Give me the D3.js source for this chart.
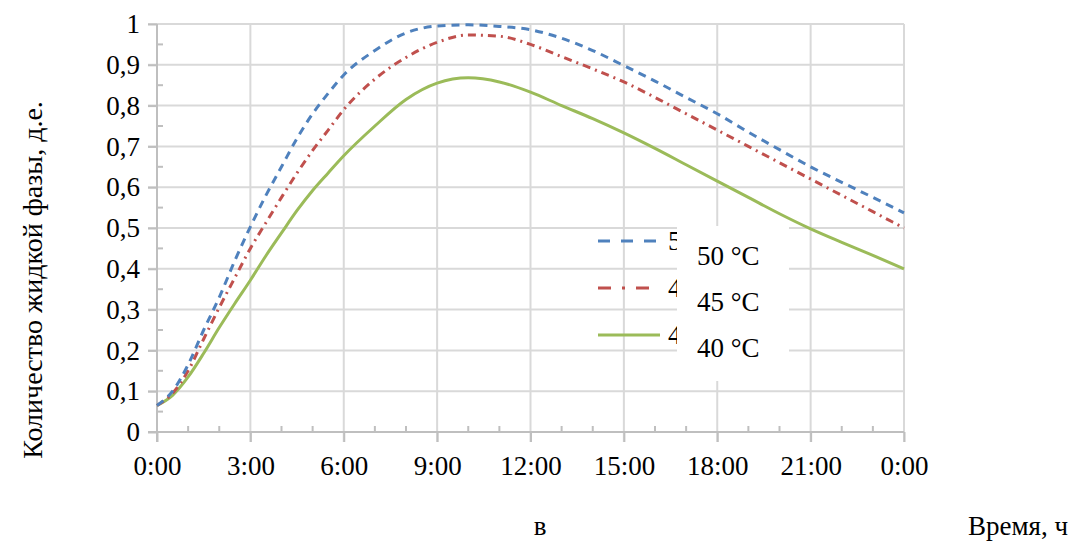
<!DOCTYPE html>
<html>
<head>
<meta charset="utf-8">
<script src="https://cdn.jsdelivr.net/npm/d3@7/dist/d3.min.js"></script>
<style>
  body { margin: 0; background: #fff; }
</style>
</head>
<body>
<svg id="chart" width="1076" height="547" font-family="Liberation Serif"></svg>
<script>
// hours since start
const hours = [0, 0.5, 1, 1.5, 2, 2.5, 3, 3.5, 4, 4.5, 5, 5.5, 6, 7, 8, 9, 10, 11, 12, 13, 14, 15, 16, 17, 18, 19, 20, 21, 22, 23, 24];
const t50 = [0.065, 0.10, 0.165, 0.25, 0.33, 0.42, 0.503, 0.58, 0.65, 0.72, 0.78, 0.83, 0.875, 0.935, 0.978, 0.995, 0.998, 0.994, 0.986, 0.965, 0.935, 0.898, 0.86, 0.82, 0.78, 0.735, 0.692, 0.65, 0.612, 0.575, 0.537];
const t45 = [0.065, 0.095, 0.15, 0.228, 0.305, 0.378, 0.45, 0.513, 0.575, 0.635, 0.69, 0.74, 0.79, 0.865, 0.918, 0.955, 0.973, 0.97, 0.95, 0.92, 0.89, 0.858, 0.82, 0.78, 0.74, 0.70, 0.66, 0.62, 0.58, 0.54, 0.50];
const t40 = [0.065, 0.09, 0.135, 0.193, 0.256, 0.315, 0.372, 0.432, 0.488, 0.543, 0.592, 0.635, 0.677, 0.75, 0.815, 0.855, 0.868, 0.858, 0.833, 0.80, 0.768, 0.733, 0.695, 0.655, 0.615, 0.575, 0.535, 0.498, 0.465, 0.433, 0.40];
const seriesNames = ["50 °C", "45 °C", "40 °C"];
const yTicks = [0, 0.1, 0.2, 0.3, 0.4, 0.5, 0.6, 0.7, 0.8, 0.9, 1];
const xTicks = [0, 3, 6, 9, 12, 15, 18, 21, 24];

const svg = d3.select("#chart");
const pLeft = 157, pRight = 904, pTop = 24, pBottom = 432;
const serif = "'Liberation Serif', 'Times New Roman', Tinos, 'DejaVu Serif', serif";

const x = d3.scaleLinear().domain([0, 24]).range([pLeft, pRight]);
const y = d3.scaleLinear().domain([0, 1]).range([pBottom, pTop]);

const gridColor = "#d9d9d9";
const axisColor = "#bfbfbf";

// horizontal grid
svg.append("g").selectAll("line").data(yTicks.slice(1)).join("line")
  .attr("x1", pLeft - 9).attr("x2", pRight)
  .attr("y1", d => y(d)).attr("y2", d => y(d))
  .attr("stroke", gridColor).attr("stroke-width", 2);

// vertical grid
svg.append("g").selectAll("line").data(xTicks.slice(1)).join("line")
  .attr("x1", d => x(d)).attr("x2", d => x(d))
  .attr("y1", pTop).attr("y2", pBottom + 10)
  .attr("stroke", gridColor).attr("stroke-width", 2);

// minor ticks
svg.append("g").selectAll("line").data(d3.range(1, 24).filter(h => h % 3)).join("line")
  .attr("x1", d => x(d)).attr("x2", d => x(d))
  .attr("y1", pBottom - 6).attr("y2", pBottom)
  .attr("stroke", axisColor).attr("stroke-width", 2);
svg.append("g").selectAll("line").data(yTicks.slice(0, -1).map(v => v + 0.05)).join("line")
  .attr("x1", pLeft).attr("x2", pLeft + 6)
  .attr("y1", d => y(d)).attr("y2", d => y(d))
  .attr("stroke", axisColor).attr("stroke-width", 2);

// axes
const xAxis = d3.axisBottom(x).tickValues(xTicks)
  .tickFormat(h => (h % 24) + ":00").tickSize(10).tickPadding(14);
const gx = svg.append("g").attr("transform", `translate(0,${pBottom})`).call(xAxis)
  .attr("font-family", null).attr("font-size", null);
gx.select(".domain").attr("d", `M${pLeft - 9},0H${pRight}`).attr("stroke", axisColor).attr("stroke-width", 2);
gx.selectAll(".tick line").attr("stroke", axisColor).attr("stroke-width", 2);

const yAxis = d3.axisLeft(y).tickValues(yTicks)
  .tickFormat(v => d3.format(".1~f")(v).replace(".", ",")).tickSize(9).tickPadding(8);
const gy = svg.append("g").attr("transform", `translate(${pLeft},0)`).call(yAxis)
  .attr("font-family", null).attr("font-size", null);
gy.select(".domain").attr("d", `M0,${pTop}V${pBottom + 10}`).attr("stroke", axisColor).attr("stroke-width", 2);
gy.selectAll(".tick line").attr("stroke", axisColor).attr("stroke-width", 2);

// series
const series = [
  { name: seriesNames[0], values: t50, color: "#4f81bd", dash: "8,6" },
  { name: seriesNames[1], values: t45, color: "#c0504d", dash: "8,5,2,5" },
  { name: seriesNames[2], values: t40, color: "#9bbb59", dash: null }
];
const line = d3.line().x((d, i) => x(hours[i])).y(d => y(d)).curve(d3.curveMonotoneX);
series.slice().reverse().forEach(s => {
  svg.append("path").datum(s.values)
    .attr("d", line).attr("fill", "none")
    .attr("stroke", s.color).attr("stroke-width", 3)
    .attr("stroke-dasharray", s.dash);
});

// legend: original labels are cut off by a white patch, only first digit shows
const leg = svg.append("g");
series.forEach((s, i) => {
  const ly = 241 + i * 47;
  leg.append("line").attr("x1", 598).attr("x2", 660).attr("y1", ly).attr("y2", ly)
    .attr("stroke", s.color).attr("stroke-width", 3)
    .attr("stroke-dasharray", s.dash ? (i === 0 ? "12,11" : "13,11,3,11") : null);
  leg.append("text").attr("x", 668).attr("y", ly + 9).text(s.name.charAt(0));
});
svg.append("rect").attr("x", 677).attr("y", 226).attr("width", 112).attr("height", 155).attr("fill", "#fff");
series.forEach((s, i) => {
  svg.append("text").attr("x", 697).attr("y", 265 + i * 46).text(s.name);
});

// titles
svg.append("text").attr("transform", "translate(42,280) rotate(-90)")
  .attr("text-anchor", "middle").attr("class", "ytitle").text("Количество жидкой фазы, д.е.");
svg.append("text").attr("x", 540).attr("y", 535).attr("text-anchor", "middle").text("в");
svg.append("text").attr("x", 1068).attr("y", 535).attr("text-anchor", "end").text("Время, ч");

svg.selectAll("text")
  .style("font-family", serif)
  .style("font-size", "27px")
  .attr("fill", "#000");
svg.select(".ytitle").style("font-size", "28px");
</script>
</body>
</html>
